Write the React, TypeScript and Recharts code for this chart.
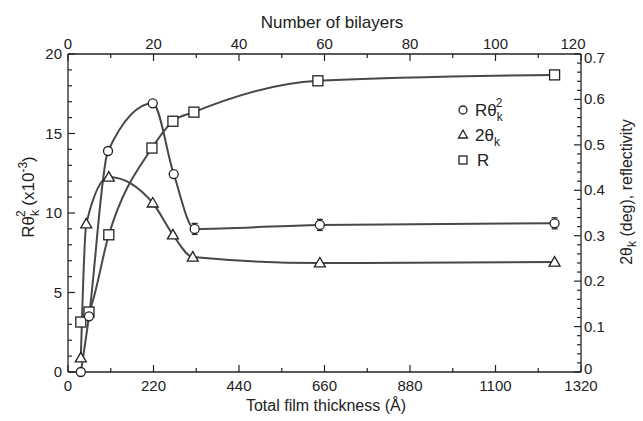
import { LineChart, Line, XAxis, YAxis, ErrorBar } from 'recharts';

// R theta_k^2 (x10^-3), left axis
const rthX = [33, 54, 103, 218, 272, 326, 648, 1252];
const rthY = [0, 3.5, 13.9, 16.9, 12.45, 9.0, 9.25, 9.35];
const rthErr = [0, 0, 0, 0, 0, 0.35, 0.35, 0.35];

// 2 theta_k (deg), right axis
const thX = [33, 47, 105, 218, 270, 321, 648, 1252];
const thY = [0.031, 0.326, 0.429, 0.372, 0.302, 0.253, 0.24, 0.242];

// reflectivity R, right axis
const refX = [33, 54, 105, 216, 270, 324, 643, 1252];
const refY = [0.11, 0.132, 0.302, 0.493, 0.552, 0.572, 0.641, 0.654];

const thicknessMajor = [0, 220, 440, 660, 880, 1100, 1320];
const bilayerLabels = [0, 20, 40, 60, 80, 100, 120];
const leftMajor = [0, 5, 10, 15, 20];
const rightMajor = [0, 0.1, 0.2, 0.3, 0.4, 0.5, 0.6, 0.7];

const thicknessTicks: number[] = [];
for (let i = 0; i <= 12; i++) thicknessTicks.push(i * 110);
const leftTicks: number[] = [];
for (let i = 0; i <= 20; i++) leftTicks.push(i);
const rightTicks: number[] = [];
for (let i = 0; i <= 35; i++) rightTicks.push(Math.round(i * 2) / 100);

const rthData = rthX.map((x, i) => ({ x, y: rthY[i], err: rthErr[i] }));
const rthErrData = rthData.filter((d) => d.err > 0);
const thData = thX.map((x, i) => ({ x, y: thY[i] }));
const refData = refX.map((x, i) => ({ x, y: refY[i] }));

const INK = '#222';
const LINE = '#484848';
const FONT = '"Liberation Sans", Arial, sans-serif';

const isMajor = (list: number[], v: number) => list.findIndex((m) => Math.abs(m - v) < 1e-6);

function makeTick(side: 'bottom' | 'top' | 'left' | 'right') {
  return (props: any) => {
    const { x, y, payload } = props;
    const v = payload.value;
    let idx = -1;
    let label = '';
    if (side === 'bottom' || side === 'top') {
      idx = isMajor(thicknessMajor, v);
      if (idx >= 0) label = String(side === 'bottom' ? thicknessMajor[idx] : bilayerLabels[idx]);
    } else if (side === 'left') {
      idx = isMajor(leftMajor, v);
      if (idx >= 0) label = String(leftMajor[idx]);
    } else {
      idx = isMajor(rightMajor, v);
      if (idx >= 0) label = idx === 0 ? '0' : rightMajor[idx].toFixed(1);
    }
    const len = idx >= 0 ? 7 : 4;
    const t = { fill: INK, fontSize: 15, fontFamily: FONT };
    const last = idx === thicknessMajor.length - 1;
    if (side === 'bottom')
      return (
        <g>
          <line x1={x} y1={y} x2={x} y2={y - len} stroke={INK} strokeWidth={1.2} />
          {label && <text x={x} y={y + 19} textAnchor="middle" {...t}>{label}</text>}
        </g>
      );
    if (side === 'top')
      return (
        <g>
          <line x1={x} y1={y} x2={x} y2={y + len} stroke={INK} strokeWidth={1.2} />
          {label && (
            <text x={last ? x - 8 : x} y={y - 5} textAnchor="middle" {...t}>
              {label}
            </text>
          )}
        </g>
      );
    if (side === 'left')
      return (
        <g>
          <line x1={x} y1={y} x2={x + len} y2={y} stroke={INK} strokeWidth={1.2} />
          {label && <text x={x - 6} y={y + 5} textAnchor="end" {...t}>{label}</text>}
        </g>
      );
    const dy = idx === 0 ? 2 : idx === rightMajor.length - 1 ? 9 : 5;
    return (
      <g>
        <line x1={x} y1={y} x2={x - len} y2={y} stroke={INK} strokeWidth={1.2} />
        {label && <text x={x + 3} y={y + dy} textAnchor="start" {...t}>{label}</text>}
      </g>
    );
  };
}

const CircleDot = (p: any) => (
  <circle key={p.index} cx={p.cx} cy={p.cy} r={4.5} fill="#fff" stroke={INK} strokeWidth={1.3} />
);
const TriDot = (p: any) => (
  <path
    key={p.index}
    d={`M${p.cx},${p.cy - 5.5} L${p.cx + 5.5},${p.cy + 4} L${p.cx - 5.5},${p.cy + 4} Z`}
    fill="#fff"
    stroke={INK}
    strokeWidth={1.3}
  />
);
const SquareDot = (p: any) => (
  <rect key={p.index} x={p.cx - 5} y={p.cy - 5} width={10} height={10} fill="#fff" stroke={INK} strokeWidth={1.3} />
);

const sub = { fontSize: 12, fill: INK };

const bottomTitle = () => (
  <text x={326} y={411} textAnchor="middle" fill={INK} fontSize={16} fontFamily={FONT}>
    Total film thickness  (Å)
  </text>
);

const topTitle = () => (
  <text x={332} y={28} textAnchor="middle" fill={INK} fontSize={17} fontFamily={FONT}>
    Number of bilayers
  </text>
);

const leftTitle = () => (
  <text transform="translate(34,197) rotate(-90)" textAnchor="middle" fill={INK} fontSize={17} fontFamily={FONT}>
    Rθ
    <tspan dy={5} {...sub}>k</tspan>
    <tspan dx={-7} dy={-14} {...sub}>2</tspan>
    <tspan dy={9}>{'  (x10'}</tspan>
    <tspan dy={-7} {...sub}>-3</tspan>
    <tspan dy={7}>)</tspan>
  </text>
);

const rightTitle = () => (
  <g>
    <text transform="translate(632,192) rotate(-90)" textAnchor="middle" fill={INK} fontSize={16} fontFamily={FONT}>
      2θ
      <tspan dy={4} {...sub}>k</tspan>
      <tspan dy={-4}>{' (deg), reflectivity'}</tspan>
    </text>
    {/* legend */}
    <g fontFamily={FONT} fill={INK} fontSize={17}>
      <circle cx={463} cy={110} r={4} fill="#fff" stroke={INK} strokeWidth={1.3} />
      <text x={475} y={116} fill={INK}>
        Rθ
        <tspan dy={5} {...sub}>k</tspan>
        <tspan dx={-7} dy={-14} {...sub}>2</tspan>
      </text>
      <path d="M463,130 L467.5,138 L458.5,138 Z" fill="#fff" stroke={INK} strokeWidth={1.3} />
      <text x={475} y={141} fill={INK}>
        2θ
        <tspan dy={5} {...sub}>k</tspan>
      </text>
      <rect x={459} y={156} width={8} height={8} fill="#fff" stroke={INK} strokeWidth={1.3} />
      <text x={477} y={166} fill={INK}>R</text>
    </g>
  </g>
);

export default function App() {
  return (
    <div style={{ position: 'absolute', left: 0, top: 0, width: 643, height: 421, background: '#fff' }}>
      <LineChart width={643} height={421} margin={{ top: 24, right: 22, bottom: 19, left: 28 }}>
        <XAxis
          xAxisId="bottom"
          dataKey="x"
          type="number"
          domain={[0, 1320]}
          ticks={thicknessTicks}
          interval={0}
          height={30}
          tickSize={0}
          tickMargin={0}
          tickLine={false}
          tick={makeTick('bottom')}
          axisLine={{ stroke: INK, strokeWidth: 1.3 }}
          label={bottomTitle}
        />
        <XAxis
          xAxisId="top"
          orientation="top"
          dataKey="x"
          type="number"
          domain={[0, 1320]}
          ticks={thicknessTicks}
          interval={0}
          height={30}
          tickSize={0}
          tickMargin={0}
          tickLine={false}
          tick={makeTick('top')}
          axisLine={{ stroke: INK, strokeWidth: 1.3 }}
          label={topTitle}
        />
        <YAxis
          yAxisId="left"
          type="number"
          domain={[0, 20]}
          ticks={leftTicks}
          interval={0}
          width={40}
          tickSize={0}
          tickMargin={0}
          tickLine={false}
          tick={makeTick('left')}
          axisLine={{ stroke: INK, strokeWidth: 1.3 }}
          label={leftTitle}
        />
        <YAxis
          yAxisId="right"
          orientation="right"
          type="number"
          domain={[0, 0.7]}
          ticks={rightTicks}
          interval={0}
          width={40}
          tickSize={0}
          tickMargin={0}
          tickLine={false}
          tick={makeTick('right')}
          axisLine={{ stroke: INK, strokeWidth: 1.3 }}
          label={rightTitle}
        />
        <Line
          data={rthErrData}
          xAxisId="top"
          yAxisId="left"
          dataKey="y"
          stroke="none"
          dot={false}
          activeDot={false}
          legendType="none"
          isAnimationActive={false}
        >
          <ErrorBar dataKey="err" width={3} stroke={INK} strokeWidth={1.2} direction="y" isAnimationActive={false} />
        </Line>
        <Line
          data={refData}
          xAxisId="bottom"
          yAxisId="right"
          dataKey="y"
          type="monotone"
          stroke={LINE}
          strokeWidth={2}
          dot={SquareDot}
          activeDot={false}
          isAnimationActive={false}
        />
        <Line
          data={thData}
          xAxisId="bottom"
          yAxisId="right"
          dataKey="y"
          type="monotone"
          stroke={LINE}
          strokeWidth={2}
          dot={TriDot}
          activeDot={false}
          isAnimationActive={false}
        />
        <Line
          data={rthData}
          xAxisId="bottom"
          yAxisId="left"
          dataKey="y"
          type="monotone"
          stroke={LINE}
          strokeWidth={2}
          dot={CircleDot}
          activeDot={false}
          isAnimationActive={false}
        />
      </LineChart>
    </div>
  );
}
